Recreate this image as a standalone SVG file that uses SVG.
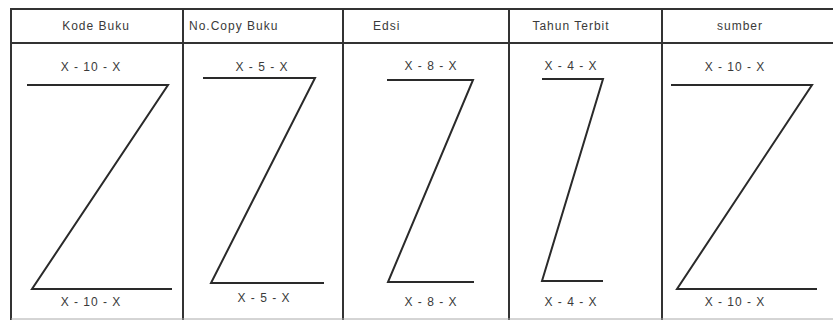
<svg xmlns="http://www.w3.org/2000/svg" width="833" height="320" viewBox="0 0 833 320">
<style>
.grid{stroke:#333;stroke-width:2;fill:none}
.z{stroke:#2a2a2a;stroke-width:2;fill:none;stroke-linejoin:miter}
.t{font-family:"Liberation Sans",Arial,sans-serif;font-size:12px;letter-spacing:1px;fill:#3a3a3a;text-anchor:middle}
.h{font-family:"Liberation Sans",Arial,sans-serif;font-size:12px;letter-spacing:1px;fill:#3a3a3a}
</style>
<rect width="833" height="320" fill="#fff"/>
<g id="table">
<path class="grid" d="M11,9 H833 M11,43 H833 M11,8 V320 M183,8 V320 M343,8 V320 M509,8 V320 M662,8 V320"/>
<path d="M11,319 H833" stroke="#aaa" stroke-width="1"/>
</g>
<g id="headers">
<text class="t" x="96" y="30">Kode Buku</text>
<text class="h" x="189" y="30">No.Copy Buku</text>
<text class="h" x="373" y="30">Edsi</text>
<text class="t" x="571" y="30">Tahun Terbit</text>
<text class="t" x="740" y="30">sumber</text>
</g>
<g id="col1">
<text class="t" x="91" y="71">X - 10 - X</text>
<path class="z" d="M27,85 H168 L32,289 H172"/>
<text class="t" x="91" y="306">X - 10 - X</text>
</g>
<g id="col2">
<text class="t" x="262" y="71">X - 5 - X</text>
<path class="z" d="M203,78 H315 L211,283 H324"/>
<text class="t" x="264" y="302">X - 5 - X</text>
</g>
<g id="col3">
<text class="t" x="431" y="70">X - 8 - X</text>
<path class="z" d="M387,80 H473 L388,282 H474"/>
<text class="t" x="431" y="306">X - 8 - X</text>
</g>
<g id="col4">
<text class="t" x="571" y="70">X - 4 - X</text>
<path class="z" d="M542,79 H603 L542,281 H603"/>
<text class="t" x="571" y="306">X - 4 - X</text>
</g>
<g id="col5">
<text class="t" x="735" y="71">X - 10 - X</text>
<path class="z" d="M671,85 H812 L677,289 H817"/>
<text class="t" x="735" y="306">X - 10 - X</text>
</g>
</svg>
